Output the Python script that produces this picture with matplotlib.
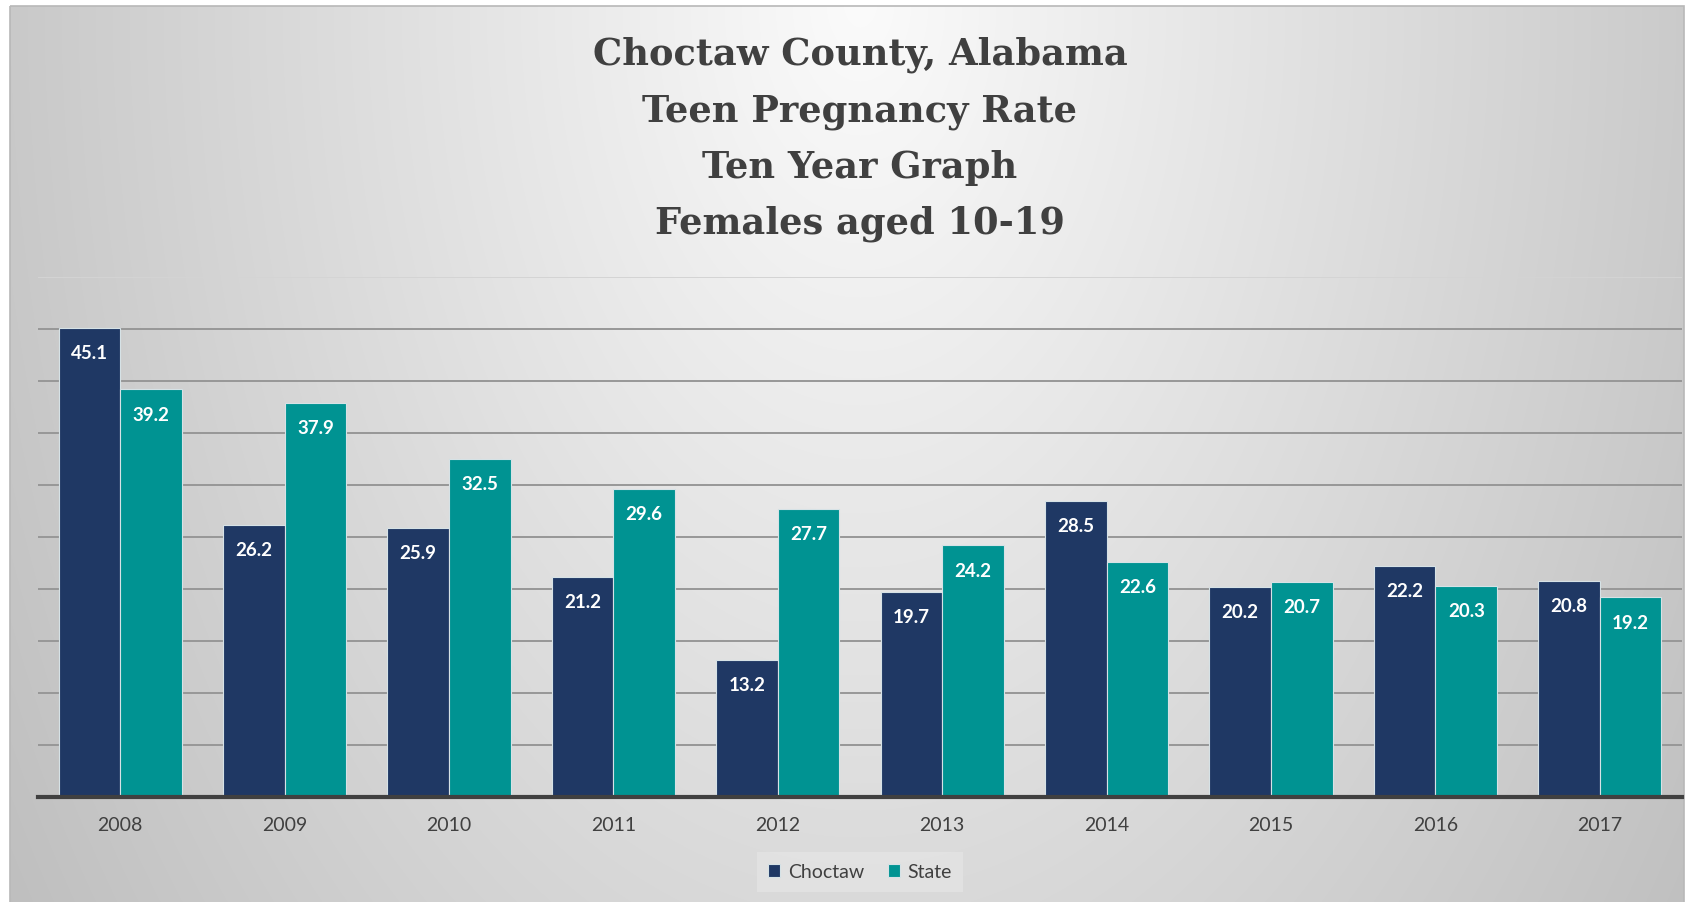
import numpy as np
import matplotlib
matplotlib.use("Agg")
import matplotlib.pyplot as plt
from matplotlib.patches import Rectangle

# data
years = ["2008", "2009", "2010", "2011", "2012", "2013", "2014", "2015", "2016", "2017"]
choctaw = [45.1, 26.2, 25.9, 21.2, 13.2, 19.7, 28.5, 20.2, 22.2, 20.8]
state = [39.2, 37.9, 32.5, 29.6, 27.7, 24.2, 22.6, 20.7, 20.3, 19.2]
title_lines = ["Choctaw County, Alabama", "Teen Pregnancy Rate",
               "Ten Year Graph", "Females aged 10-19"]

navy = "#1f3864"
teal = "#009392"
text_grey = "#404040"

W, H = 1691, 902
fig = plt.figure(figsize=(W / 100, H / 100), dpi=100)
fig.patch.set_facecolor("white")

# background: slide-like radial grey gradient
bg = fig.add_axes([0, 0, 1, 1], zorder=-10)
bg.set_xlim(0, W)
bg.set_ylim(H, 0)
bg.axis("off")
xx, yy = np.meshgrid(np.arange(10, 1684), np.arange(6, H))
r = np.sqrt(((xx - 860) / 850.0) ** 2 + (yy / 1350.0) ** 2)
shade = np.clip(251 - 50 * r, 188, 252) / 255.0
bg.imshow(np.dstack([shade, shade, shade]), extent=(10, 1684, H, 6),
          aspect="auto", interpolation="bilinear")
bg.add_patch(Rectangle((10, 6), 1674, H, fill=False, edgecolor="#b8b8b8", lw=1.2))

# main chart
ax = fig.add_axes([38 / W, 1 - 797 / H, 1644 / W, 520 / H])
ax.set_facecolor("none")
x = np.arange(len(years))
bw = 0.375
b1 = ax.bar(x - bw / 2, choctaw, bw, color=navy, edgecolor="#d6e2e6", linewidth=0.8,
            label="Choctaw", zorder=3)
b2 = ax.bar(x + bw / 2, state, bw, color=teal, edgecolor="#d6e2e6", linewidth=0.8,
            label="State", zorder=3)

for bars, vals in [(b1, choctaw), (b2, state)]:
    for bar, v in zip(bars, vals):
        ax.annotate(f"{v:.1f}", (bar.get_x() + bar.get_width() / 2, v),
                    xytext=(0, -18.5), textcoords="offset points",
                    ha="center", va="center", color="white",
                    fontsize=13.5, fontweight="bold", family="Lato", zorder=4)

ax.set_xlim(-0.5, len(years) - 0.5)
ax.set_ylim(0, 50)
ax.set_yticks(np.arange(0, 55, 5))
ax.grid(axis="y", color="#979797", linewidth=1.4, zorder=0)
ax.get_ygridlines()[-1].set_color("#d4d4d4")
ax.set_axisbelow(True)
for s in ["top", "right", "left"]:
    ax.spines[s].set_visible(False)
ax.spines["bottom"].set_color(text_grey)
ax.spines["bottom"].set_linewidth(3)
ax.spines["bottom"].set_zorder(5)
ax.tick_params(left=False, labelleft=False, bottom=False, pad=11)
ax.set_xticks(x)
ax.set_xticklabels(years, fontsize=14, color=text_grey, family="Lato")

leg = ax.legend(loc="center", bbox_to_anchor=(860 / W, 1 - 872 / H),
                bbox_transform=fig.transFigure, ncol=2, frameon=True,
                fancybox=False, handlelength=0.62, handleheight=0.62,
                handletextpad=0.4, columnspacing=1.2, borderpad=0.6,
                prop={"family": "Lato", "size": 14})
leg.get_frame().set_facecolor("#e4e4e4")
leg.get_frame().set_edgecolor("none")
for t in leg.get_texts():
    t.set_color(text_grey)

# title, one line at a time
for line, yc in zip(title_lines, [55, 112, 168, 224]):
    fig.text(860 / W, 1 - yc / H, line, ha="center", va="center",
             fontsize=26.5, fontweight="bold", family="DejaVu Serif", color=text_grey)

fig.savefig("out.png", dpi=100)
